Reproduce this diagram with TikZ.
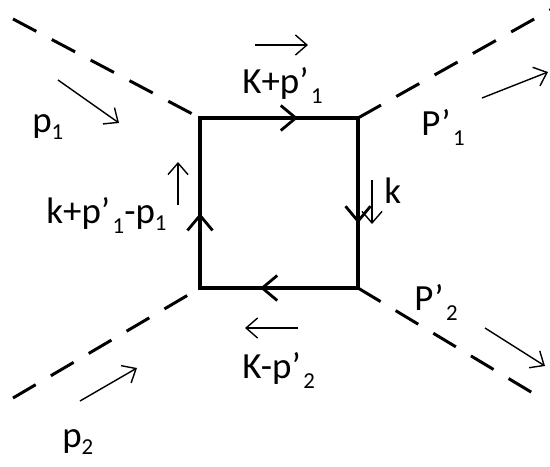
\documentclass[tikz,border=0pt]{standalone}
\usepackage{fontspec}
\setmainfont{Carlito}
\usetikzlibrary{arrows.meta,decorations.markings}

% lowered indices as in the drawing
\newcommand\lowidx[1]{\raisebox{-4.5pt}{\fontsize{13}{13}\selectfont #1}}
\newcommand\primeidx[1]{\kern1.5pt\raisebox{-6pt}{\fontsize{13}{13}\selectfont #1}}

\begin{document}
\begin{tikzpicture}[
        x=0.02cm,
        y=-0.02cm,
        every node/.style={font=\fontsize{21}{24}\selectfont, inner sep=0pt, anchor=base west},
        leg/.style={
            dashed,
            line width=1.7pt,
            dash pattern=on 15 off 10
        },
        loopline/.style={
            line width=1.8pt,
            line cap=rect
        },
        flow/.style={
            postaction={decorate,
                decoration={markings,
                    mark=at position #1 with {\arrow{Straight Barb[length=3mm,width=5mm,line width=1.6pt]}}}}
        },
        mom/.style={
            line width=0.8pt,
            -{Straight Barb[length=2.3mm,width=4mm]}
        }
    ]
    \useasboundingbox (0,0) rectangle (550,466);

    % Box corners
    \coordinate (a) at (200,118);
    \coordinate (b) at (358,118);
    \coordinate (c) at (358,288);
    \coordinate (d) at (200,288);

    % Outer ends of the legs
    \coordinate (in1) at (13,19);
    \coordinate (out1) at (552,9);
    \coordinate (in2) at (13,398);
    \coordinate (out2) at (546,401);

    % Legs
    \draw[leg] (in1) -- (a);
    \draw[leg] (b) -- (out1);
    \draw[leg] (in2) -- (d);
    \draw[leg] (c) -- (out2);

    % Loop
    \draw[loopline, flow=0.62] (a) -- (b);
    \draw[loopline, flow=0.62] (b) -- (c);
    \draw[loopline, flow=0.62] (c) -- (d);
    \draw[loopline, flow=0.44] (d) -- (a);

    % Momentum arrows
    \coordinate (p1s) at (58,80);
    \coordinate (p1e) at (119,123);
    \draw[mom] (p1s) -- (p1e);
    \coordinate (p2s) at (80,401);
    \coordinate (p2e) at (137,368);
    \draw[mom] (p2s) -- (p2e);
    \coordinate (q1s) at (482,98);
    \coordinate (q1e) at (548,72);
    \draw[mom] (q1s) -- (q1e);
    \coordinate (q2s) at (485,328);
    \coordinate (q2e) at (545,366);
    \draw[mom] (q2s) -- (q2e);
    \coordinate (ts) at (255,45);
    \coordinate (te) at (308,45);
    \draw[mom] (ts) -- (te);
    \coordinate (rs) at (372,180);
    \coordinate (re) at (372,224);
    \draw[mom] (rs) -- (re);
    \coordinate (bs) at (298,328);
    \coordinate (be) at (245,328);
    \draw[mom] (bs) -- (be);
    \coordinate (ls) at (178,205);
    \coordinate (le) at (178,162);
    \draw[mom] (ls) -- (le);

    % Labels
    \node (lp1) at (32,132) {p\lowidx{1}};
    \node (lp2) at (62,447) {p\lowidx{2}};
    \node (lq1) at (421,135) {P’\primeidx{1}};
    \node (lq2) at (414,310) {P’\primeidx{2}};
    \node (ltop) at (242,93) {K+p’\primeidx{1}};
    \node (lbot) at (242,378) {K-p’\primeidx{2}};
    \node (lright) at (384,203) {k};
    \node (lleft) at (46,223) {k+p’\primeidx{1}-p\lowidx{1}};

\end{tikzpicture}
\end{document}
